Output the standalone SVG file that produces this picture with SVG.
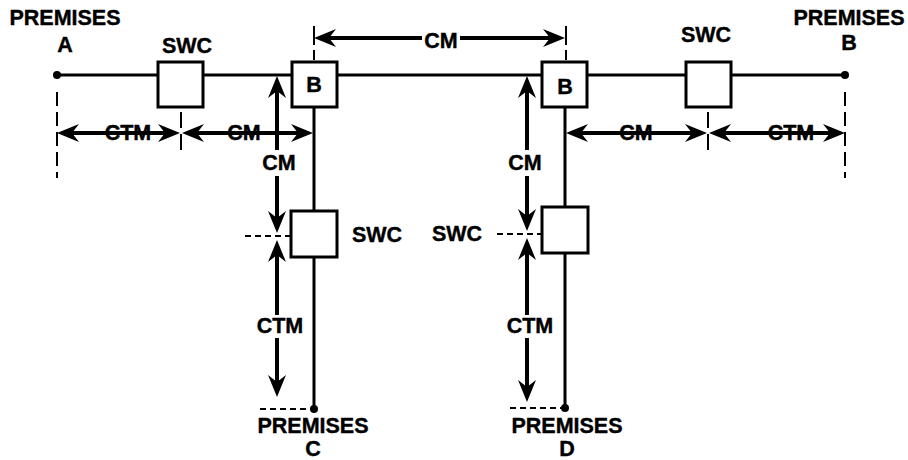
<svg xmlns="http://www.w3.org/2000/svg" width="908" height="460" viewBox="0 0 908 460">
<style>
text{font-family:"Liberation Sans",Arial,sans-serif;font-weight:bold;font-size:21.5px;fill:#000;text-anchor:middle;stroke:#000;stroke-width:0.4}
.ln{stroke:#000;stroke-width:3;fill:none}
.box{stroke:#000;stroke-width:3;fill:#fff}
.ar{stroke:#000;stroke-width:4;fill:none;marker-end:url(#ah)}
.ar2{stroke:#000;stroke-width:4;fill:none;marker-start:url(#ah);marker-end:url(#ah)}
.ars{stroke:#000;stroke-width:4;fill:none;marker-start:url(#ah)}
.dash{stroke:#000;stroke-width:2;stroke-dasharray:14 6;fill:none}
.dsh{stroke:#000;stroke-width:2;stroke-dasharray:6 4;fill:none}
</style>
<defs>
<marker id="ah" markerUnits="userSpaceOnUse" markerWidth="26" markerHeight="22" viewBox="0 -11 26 22" refX="12" refY="0" orient="auto-start-reverse">
<path d="M22,0 L0,-9 L7,0 L0,9 Z" fill="#000"/>
</marker>
</defs>

<g id="lines">
<line class="ln" x1="57" y1="75" x2="845" y2="75"/>
<line class="ln" x1="314" y1="108" x2="314" y2="409"/>
<line class="ln" x1="565" y1="107" x2="565" y2="408"/>
</g>

<g id="premises-a">
<circle cx="57" cy="75" r="4" fill="#000"/>
<text x="65" y="25">PREMISES</text>
<text x="65" y="52">A</text>
</g>
<g id="premises-b">
<circle cx="845" cy="75" r="4" fill="#000"/>
<text x="849" y="25">PREMISES</text>
<text x="849" y="50">B</text>
</g>
<g id="premises-c">
<circle cx="314" cy="409" r="4" fill="#000"/>
<text x="313" y="433">PREMISES</text>
<text x="313" y="456">C</text>
</g>
<g id="premises-d">
<circle cx="565" cy="408" r="4" fill="#000"/>
<text x="567" y="433">PREMISES</text>
<text x="567" y="456">D</text>
</g>

<g id="swc-a">
<rect class="box" x="158" y="62" width="45" height="45"/>
<text x="187" y="53">SWC</text>
</g>
<g id="b-left">
<rect class="box" x="292" y="62" width="45" height="45"/>
<text x="314" y="92">B</text>
</g>
<g id="b-right">
<rect class="box" x="542" y="62" width="45" height="45"/>
<text x="565" y="94">B</text>
</g>
<g id="swc-b">
<rect class="box" x="686" y="62" width="45" height="45"/>
<text x="706" y="42">SWC</text>
</g>
<g id="swc-c">
<rect class="box" x="291" y="211" width="46" height="46"/>
<text x="377" y="242">SWC</text>
</g>
<g id="swc-d">
<rect class="box" x="542" y="207" width="46" height="46"/>
<text x="457" y="241">SWC</text>
</g>

<g id="dimension-lines">
<line class="dash" x1="57" y1="92" x2="57" y2="178"/>
<line class="dash" x1="845" y1="92" x2="845" y2="178"/>
<line class="dash" x1="181" y1="112" x2="181" y2="150" style="stroke-dasharray:16 6"/>
<line class="dash" x1="708" y1="112" x2="708" y2="150" style="stroke-dasharray:16 6"/>
<line class="dash" x1="314" y1="26" x2="314" y2="60" style="stroke-dasharray:19 5"/>
<line class="dash" x1="566" y1="26" x2="566" y2="60" style="stroke-dasharray:19 5"/>
<line class="dsh" x1="245" y1="236" x2="291" y2="236"/>
<line class="dsh" x1="497" y1="234" x2="542" y2="234"/>
<line class="dsh" x1="260" y1="409" x2="312" y2="409"/>
<line class="dsh" x1="510" y1="408" x2="563" y2="408"/>
</g>

<g id="connectors">
<line class="ars" x1="324" y1="38" x2="422" y2="38"/>
<line class="ar" x1="460" y1="38" x2="555" y2="38"/>
<line class="ar2" x1="67" y1="133" x2="170" y2="133"/>
<line class="ar2" x1="192" y1="133" x2="303" y2="133"/>
<line class="ar2" x1="576" y1="133" x2="697" y2="133"/>
<line class="ar2" x1="719" y1="133" x2="835" y2="133"/>
<line class="ars" x1="277" y1="86" x2="277" y2="150"/>
<line class="ar" x1="277" y1="176" x2="277" y2="223"/>
<line class="ars" x1="277" y1="250" x2="277" y2="315"/>
<line class="ar" x1="277" y1="338" x2="277" y2="387"/>
<line class="ars" x1="527" y1="86" x2="527" y2="150"/>
<line class="ar" x1="527" y1="176" x2="527" y2="221"/>
<line class="ars" x1="527" y1="248" x2="527" y2="315"/>
<line class="ar" x1="527" y1="338" x2="527" y2="392"/>
</g>

<g id="labels">
<text x="441" y="48">CM</text>
<text x="128" y="140">CTM</text>
<text x="244" y="140">CM</text>
<text x="636" y="140">CM</text>
<text x="791" y="140">CTM</text>
<text x="279" y="170">CM</text>
<text x="280" y="333">CTM</text>
<text x="525" y="170">CM</text>
<text x="530" y="333">CTM</text>
</g>
</svg>
